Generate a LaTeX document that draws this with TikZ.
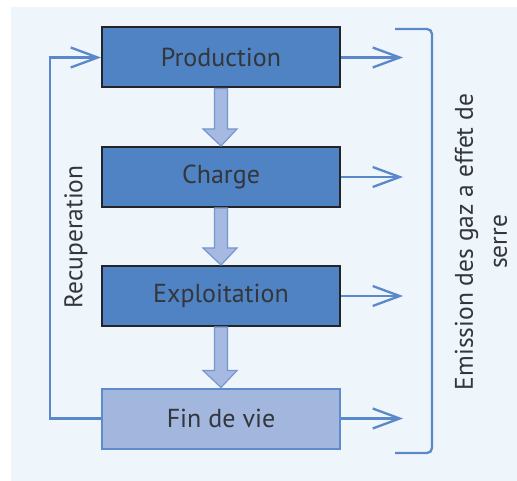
\documentclass[tikz,border=0pt]{standalone}
\usepackage{fontspec}
\setmainfont{PT Sans}
\usetikzlibrary{arrows.meta,calc}
\definecolor{bgc}{HTML}{EEF5FB}
\definecolor{darkfill}{HTML}{5083C4}
\definecolor{darkline}{HTML}{222428}
\definecolor{lightfill}{HTML}{A2B6DE}
\definecolor{lightline}{HTML}{5F8ACB}
\definecolor{thin}{HTML}{5A88CA}
\definecolor{fatfill}{HTML}{A6B9E0}
\definecolor{fatline}{HTML}{7596D0}
\definecolor{txt}{HTML}{33363B}
\begin{document}
\begin{tikzpicture}[x=1pt,y=-1pt,
  stagebox/.style={draw=darkline,line width=2pt,fill=darkfill,minimum width=238pt,minimum height=60pt,inner sep=0pt,text=txt,font=\fontsize{26}{30}\selectfont},
  lastbox/.style={stagebox,draw=lightline,fill=lightfill},
  thinline/.style={draw=thin,line width=2.3pt},
  openarrow/.style={thinline,-{Straight Barb[length=27pt,width=20pt,line width=2.3pt]}},
  fatarrow/.style={fill=fatfill,draw=fatline,line width=1.2pt},
  sidelabel/.style={text=txt,font=\fontsize{25.5}{34}\selectfont,align=center,rotate=90}]
\useasboundingbox (0,0) rectangle (517,481);
\fill[white] (0,0) rectangle (517,481);
\fill[bgc] (11,7) rectangle (517,481);
\node[stagebox] (prod) at (221,57.5) {Production};
\node[stagebox] (charge) at (221,177) {Charge};
\node[stagebox] (exploit) at (221,296) {Exploitation};
\node[lastbox] (fin) at (221,418.5) {Fin de vie};
% fat arrows
\foreach \a/\b in {prod/charge,charge/exploit,exploit/fin}{
  \draw[fatarrow] ($(\a.south)+(-6.5,0)$) -- ($(\b.north)+(-6.5,-17)$) -- ($(\b.north)+(-18,-17)$)
    -- (\b.north) -- ($(\b.north)+(16,-17)$) -- ($(\b.north)+(6.5,-17)$) -- ($(\a.south)+(6.5,0)$) -- cycle;
}
% emission arrows
\foreach \n in {prod,charge,exploit,fin}{
  \coordinate (\n-e) at ($(\n.east)+(62,0)$);
  \draw[openarrow] (\n.east) -- (\n-e);
}
% recuperation loop
\coordinate (c1) at (50,0 |- fin.west);
\coordinate (c2) at (50,0 |- prod.west);
\draw[openarrow] (fin.west) -- (c1) -- (c2) -- (prod.west);
\node[sidelabel] (recup) at (76,237) {Recuperation};
% bracket
\coordinate (b1) at (395,29);
\coordinate (b2) at (432,29);
\coordinate (b3) at (432,453);
\coordinate (b4) at (395,453);
\draw[thinline,rounded corners=5pt] (b1) -- (b2) -- (b3) -- (b4);
\node[sidelabel] (emis) at (481,242) {Emission des gaz a effet de\\serre};
\end{tikzpicture}
\end{document}
